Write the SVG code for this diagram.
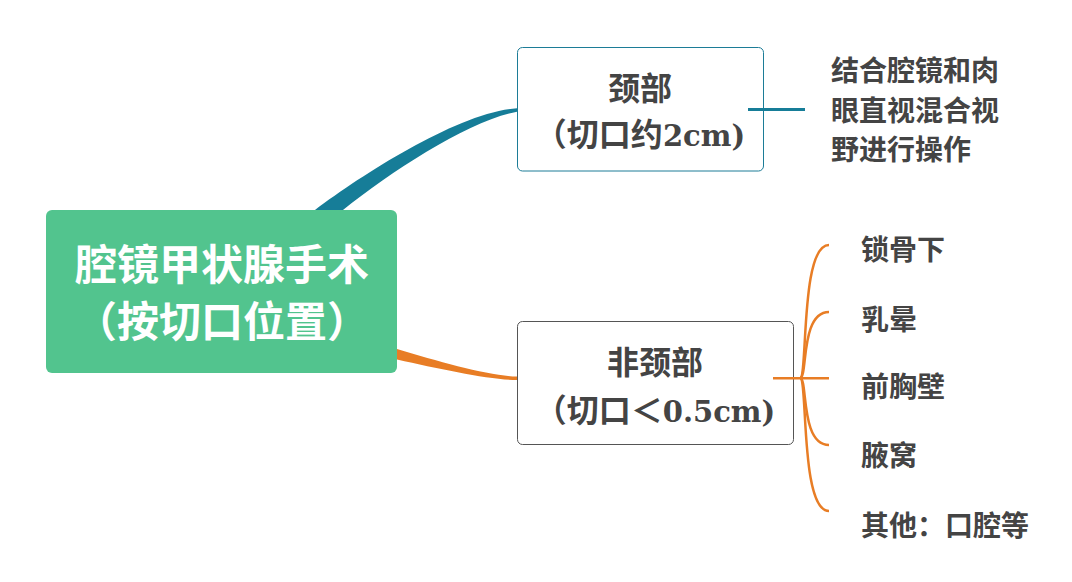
<svg xmlns="http://www.w3.org/2000/svg" width="1072" height="582" viewBox="0 0 1072 582">
<style>
  text { font-family: 'Liberation Serif', 'Noto Sans CJK SC', serif; font-weight: bold; }
  .root { fill: #ffffff; font-size: 42px; text-anchor: middle; }
  .node { fill: #444444; font-size: 32px; text-anchor: middle; }
  .lat { font-family: 'DejaVu Serif', 'Liberation Serif', serif; font-size: 29px; }
  .leaf { fill: #444444; font-size: 28px; }
  .teal { fill: #167D98; }
  .orange { fill: #E87D25; }
  .tline { stroke: #167D98; stroke-width: 3; fill: none; }
  .oline { stroke: #E87D25; stroke-width: 2.5; fill: none; }
</style>
<rect x="0" y="0" width="1072" height="582" fill="#ffffff"/>
<g id="root">
  <rect x="46" y="210" width="351" height="163" rx="6" fill="#52C48E"/>
  <text class="root" x="222" y="280">腔镜甲状腺手术</text>
  <text class="root" x="222" y="337">（按切口位置）</text>
</g>
<g id="neck">
  <rect x="517.5" y="47.5" width="246" height="123.5" rx="5" fill="#ffffff" stroke="#1C7C97" stroke-width="1"/>
  <text class="node" x="640" y="100">颈部</text>
  <text class="node" x="640" y="146">（切口约<tspan class="lat">2cm)</tspan></text>
</g>
<g id="neck-detail">
  <text class="leaf" x="831" y="81">结合腔镜和肉</text>
  <text class="leaf" x="831" y="121">眼直视混合视</text>
  <text class="leaf" x="831" y="160">野进行操作</text>
</g>
<g id="nonneck">
  <rect x="517.5" y="321.5" width="276" height="123" rx="5" fill="#ffffff" stroke="#555555" stroke-width="1"/>
  <text class="node" x="655" y="374">非颈部</text>
  <text class="node" x="655" y="422">（切口＜<tspan class="lat">0.5cm)</tspan></text>
</g>
<g id="leaf-clavicle"><text class="leaf" x="861" y="259.5">锁骨下</text></g>
<g id="leaf-areola"><text class="leaf" x="861" y="329.5">乳晕</text></g>
<g id="leaf-chest"><text class="leaf" x="861" y="396.5">前胸壁</text></g>
<g id="leaf-axilla"><text class="leaf" x="861" y="465.5">腋窝</text></g>
<g id="leaf-other"><text class="leaf" x="861" y="535.5">其他：口腔等</text></g>
<g id="connectors">
  <path class="teal" d="M 315,210 C 365,172.5 460,112 517,108.3 L 517,111.7 C 470,120 393,170 343,210 Z"/>
  <path class="orange" d="M 397,349 C 440,362 490,376 517,376.6 L 517,380 C 490,380 440,369 397,359.5 Z"/>
  <path class="tline" d="M 748,109.5 L 805,109.5"/>
  <path class="oline" d="M 773,378.3 L 829,378.3" stroke-width="3"/>
  <path class="oline" d="M 800,378 C 808,378 800,245 829,245"/>
  <path class="oline" d="M 800,378 C 808,378 800,312 829,312"/>
  <path class="oline" d="M 800,378 C 808,378 800,445 829,445"/>
  <path class="oline" d="M 800,378 C 808,378 800,511 829,511"/>
</g>
</svg>
